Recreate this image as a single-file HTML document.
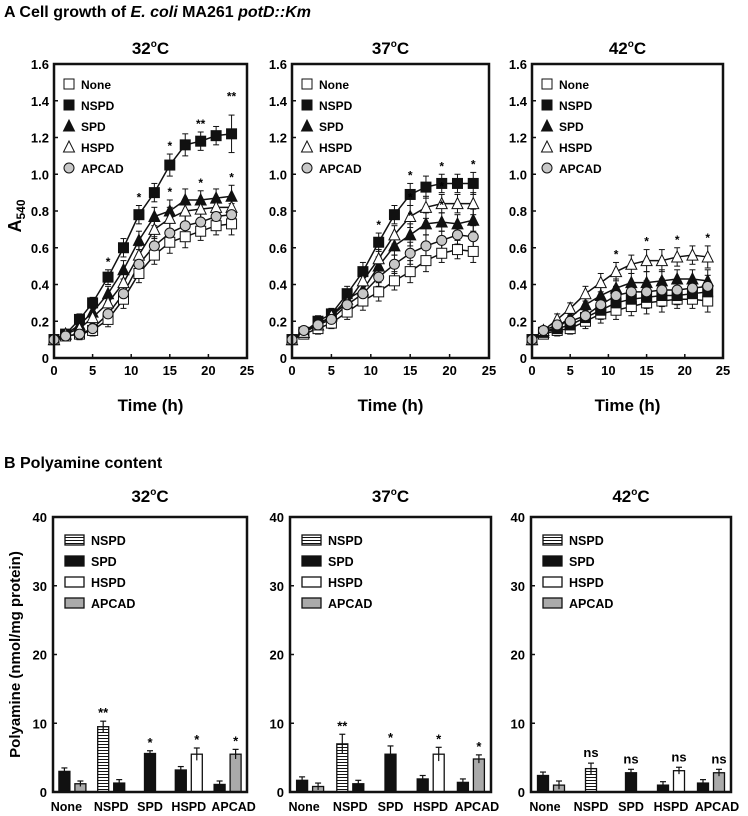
<!DOCTYPE html>
<html><head><meta charset="utf-8"><style>
body{margin:0;background:#fff}
svg{display:block;font-family:"Liberation Sans",Arial,sans-serif;font-weight:bold}
</style></head><body>
<svg id="fig" width="748" height="816" viewBox="0 0 748 816" xmlns="http://www.w3.org/2000/svg">
<text x="4" y="17" font-size="16">A  Cell growth of <tspan font-style="italic">E. coli</tspan> MA261 <tspan font-style="italic">potD::Km</tspan></text>
<text x="4" y="468" font-size="16">B  Polyamine content</text>
</svg>
<script>
// ---------- Panel A data ----------
const times = [0,1.5,3.3,5,7,9,11,13,15,17,19,21,23];
const seriesNames = ["None","NSPD","SPD","HSPD","APCAD"];
const temps = ["32","37","42"];
const a32None  = [0.1,0.12,0.13,0.15,0.21,0.32,0.46,0.56,0.63,0.66,0.69,0.72,0.73];
const a32NSPD  = [0.1,0.13,0.21,0.3,0.44,0.6,0.78,0.9,1.05,1.16,1.18,1.21,1.22];
const a32SPD   = [0.1,0.13,0.18,0.25,0.35,0.48,0.64,0.77,0.8,0.86,0.86,0.87,0.88];
const a32HSPD  = [0.1,0.13,0.16,0.22,0.3,0.41,0.56,0.7,0.76,0.8,0.81,0.82,0.82];
const a32APCAD = [0.1,0.12,0.13,0.16,0.24,0.35,0.51,0.61,0.68,0.72,0.74,0.77,0.78];
const a37None  = [0.1,0.13,0.16,0.19,0.25,0.31,0.36,0.42,0.47,0.53,0.57,0.59,0.58];
const a37NSPD  = [0.1,0.14,0.2,0.24,0.35,0.47,0.63,0.78,0.89,0.93,0.95,0.95,0.95];
const a37SPD   = [0.1,0.14,0.18,0.23,0.32,0.37,0.5,0.61,0.67,0.73,0.74,0.73,0.75];
const a37HSPD  = [0.1,0.14,0.18,0.23,0.3,0.42,0.54,0.67,0.77,0.82,0.84,0.84,0.84];
const a37APCAD = [0.1,0.15,0.18,0.21,0.29,0.35,0.44,0.51,0.57,0.61,0.64,0.67,0.66];
const a42None  = [0.1,0.13,0.15,0.16,0.2,0.24,0.26,0.28,0.3,0.31,0.32,0.32,0.31];
const a42NSPD  = [0.1,0.14,0.16,0.18,0.22,0.26,0.3,0.32,0.33,0.34,0.34,0.35,0.36];
const a42SPD   = [0.1,0.14,0.17,0.22,0.29,0.34,0.38,0.41,0.41,0.42,0.43,0.43,0.42];
const a42HSPD  = [0.1,0.15,0.21,0.27,0.35,0.41,0.47,0.51,0.53,0.53,0.55,0.56,0.55];
const a42APCAD = [0.1,0.15,0.18,0.2,0.23,0.29,0.34,0.36,0.36,0.37,0.37,0.38,0.39];
const errA = [0.01,0.02,0.03,0.03,0.04,0.05,0.05,0.05,0.06,0.06,0.05,0.05,0.06];
const yTicksA = [0,0.2,0.4,0.6,0.8,1.0,1.2,1.4,1.6];
const yTickLabelsA = ["0","0.2","0.4","0.6","0.8","1.0","1.2","1.4","1.6"];
const xTicksA = [0,5,10,15,20,25];
const stars32 = [[1,4,"*"],[1,6,"*"],[1,8,"*"],[1,10,"**"],[1,12,"**"],[2,8,"*"],[2,10,"*"],[2,12,"*"]];
const stars37 = [[1,6,"*"],[1,8,"*"],[1,10,"*"],[1,12,"*"],[3,8,"*"],[3,10,"*"],[2,8,"*"],[2,10,"*"]];
const stars42 = [[3,6,"*"],[3,8,"*"],[3,10,"*"],[3,12,"*"]];

// ---------- Panel B data ----------
const categories = ["None","NSPD","SPD","HSPD","APCAD"];
const yTicksB = [0,10,20,30,40];
const b32Spd   = [3.0,1.3,5.6,3.2,1.1];
const b32Other = [1.2,9.5,null,5.5,5.5];
const b37Spd   = [1.7,1.2,5.5,1.9,1.4];
const b37Other = [0.8,7.0,null,5.5,4.8];
const b42Spd   = [2.4,null,2.8,1.0,1.3];
const b42Other = [1.0,3.4,null,3.1,2.8];
const bErr32 = [0.4,0.8,0.4,0.9,0.7];
const bErr37 = [0.5,1.4,1.2,1.0,0.6];
const bErr42 = [0.6,0.8,0.5,0.5,0.5];
const bSig32 = ["","**","*","*","*"];
const bSig37 = ["","**","*","*","*"];
const bSig42 = ["","ns","ns","ns","ns"];
const otherType = ["gray","hatch","black","white","gray"];

const NS="http://www.w3.org/2000/svg";
const svg=document.getElementById('fig');
function el(tag,attrs,parent){const e=document.createElementNS(NS,tag);for(const k in attrs)e.setAttribute(k,attrs[k]);(parent||svg).appendChild(e);return e;}
function txt(x,y,s,size,anchor,parent){const t=el('text',{x:x,y:y,'font-size':size,'text-anchor':anchor||'middle'},parent);t.textContent=s;return t;}

const defs=el('defs',{});
const pat=el('pattern',{id:'hatch',width:4,height:3,patternUnits:'userSpaceOnUse'},defs);
el('rect',{x:0,y:0,width:4,height:3,fill:'#fff'},pat);
el('line',{x1:0,y1:0.5,x2:4,y2:0.5,stroke:'#111','stroke-width':1},pat);

function marker(g,i,x,y,s){
  const fill=[ '#fff','#111','#111','#fff','#c8c8c8'][i];
  let m;
  if(i<=1) m=el('rect',{x:x-s/2,y:y-s/2,width:s,height:s,fill:fill,stroke:'#111','stroke-width':1},g);
  else if(i<=3) m=el('polygon',{points:`${x},${y-s/2-1} ${x-s/2-0.5},${y+s/2} ${x+s/2+0.5},${y+s/2}`,fill:fill,stroke:'#111','stroke-width':1},g);
  else m=el('circle',{cx:x,cy:y,r:s/2,fill:fill,stroke:'#111','stroke-width':1},g);
  return m;
}

const aPanels=[
 {t:"32",L:54,R:247,data:[a32None,a32NSPD,a32SPD,a32HSPD,a32APCAD],stars:stars32,ylab:true},
 {t:"37",L:292,R:489,data:[a37None,a37NSPD,a37SPD,a37HSPD,a37APCAD],stars:stars37},
 {t:"42",L:532,R:723,data:[a42None,a42NSPD,a42SPD,a42HSPD,a42APCAD],stars:stars42}];
const AT=64,AB=358;
aPanels.forEach((p,pi)=>{
  const g=el('g',{});
  
  
  const xs=v=>p.L+(p.R-p.L)*v/25, ys=v=>AB-(AB-AT)*v/1.6;
  const ti=el('text',{x:(p.L+p.R)/2,y:54,'font-size':17,'text-anchor':'middle'},g);
  ti.innerHTML=p.t+'<tspan font-size="10" dy="-7">o</tspan><tspan dy="7">C</tspan>';
  
  
  yTicksA.forEach((v,i)=>{el('line',{x1:p.L,x2:p.L+4,y1:ys(v),y2:ys(v),stroke:'#111','stroke-width':1.5},g);txt(p.L-5,ys(v)+5,yTickLabelsA[i],13,'end',g);});
  xTicksA.forEach(v=>{el('line',{x1:xs(v),x2:xs(v),y1:AB,y2:AB-4,stroke:'#111','stroke-width':1.5},g);txt(xs(v),AB+17,String(v),13,'middle',g);});
  const xl=txt((p.L+p.R)/2,AB+53,'Time (h)',17,'middle',g);
  
  
  if(p.ylab){const yl=el('text',{transform:`translate(21,${(AT+AB)/2+5}) rotate(-90)`,'font-size':18,'text-anchor':'middle'},g);
    yl.innerHTML='A<tspan font-size="12" dy="4">540</tspan>';
    
    }
  p.data.forEach((arr,si)=>{
    const sg=el('g',{},g);
    
    
    el('polyline',{points:arr.map((v,i)=>xs(times[i])+','+ys(v)).join(' '),fill:'none',stroke:'#111','stroke-width':1.5},sg);
    arr.forEach((v,i)=>{const x=xs(times[i]),e=errA[i]*(si==1&&i==12&&pi==0?1.7:1);
      el('line',{x1:x,x2:x,y1:ys(v+e),y2:ys(v-e),stroke:'#111','stroke-width':1},sg);
      el('line',{x1:x-3,x2:x+3,y1:ys(v+e),y2:ys(v+e),stroke:'#111','stroke-width':1},sg);
      el('line',{x1:x-3,x2:x+3,y1:ys(v-e),y2:ys(v-e),stroke:'#111','stroke-width':1},sg);});
  });
  p.data.forEach((arr,si)=>arr.forEach((v,i)=>{const m=marker(g,si,xs(times[i]),ys(v),10);
    
    }));
  p.stars.forEach(([si,ti2,lab])=>{const v=p.data[si][ti2];txt(xs(times[ti2]),ys(v+errA[ti2]+ (lab=='**'&&pi==0&&ti2==12?0.1:0))-4,lab,12,'middle',g);});
  el('rect',{x:p.L,y:AT,width:p.R-p.L,height:AB-AT,fill:'none',stroke:'#111','stroke-width':2.5},g);
  seriesNames.forEach((n,i)=>{const ly=84+i*21;const lm=marker(g,i,p.L+15,ly,10);
    
    
    const lt=txt(p.L+27,ly+5,n,12,'start',g);
    
    });
});

const bPanels=[
 {t:"32",L:53,R:247,spd:b32Spd,oth:b32Other,err:bErr32,sig:bSig32,ylab:true},
 {t:"37",L:290,R:491,spd:b37Spd,oth:b37Other,err:bErr37,sig:bSig37},
 {t:"42",L:531,R:731,spd:b42Spd,oth:b42Other,err:bErr42,sig:bSig42}];
const BT=517,BB=792;
function fillFor(t){return t=='black'?'#111':t=='gray'?'#aaa':t=='hatch'?'url(#hatch)':'#fff';}
bPanels.forEach(p=>{
  const g=el('g',{});
  
  
  const ys=v=>BB-(BB-BT)*v/40;
  const w=p.R-p.L, cx=i=>p.L+w*(0.1+0.2*i);
  const ti=el('text',{x:(p.L+p.R)/2,y:502,'font-size':17,'text-anchor':'middle'},g);
  ti.innerHTML=p.t+'<tspan font-size="10" dy="-7">o</tspan><tspan dy="7">C</tspan>';
  yTicksB.forEach(v=>{el('line',{x1:p.L,x2:p.L+4,y1:ys(v),y2:ys(v),stroke:'#111','stroke-width':1.5},g);txt(p.L-6,ys(v)+5,String(v),13,'end',g);});
  categories.forEach((c,i)=>{const t=txt(cx(i)+(i==0?-6:i==4?6:0),BB+19,c,12.5,'middle',g);
    
    });
  if(p.ylab){const yl=el('text',{transform:`translate(20,${(BT+BB)/2}) rotate(-90)`,'font-size':15,'text-anchor':'middle'},g);
    yl.textContent='Polyamine (nmol/mg protein)';
    
    }
  const bw=11, off=8;
  categories.forEach((c,i)=>{
    const x=cx(i); let top=0;
    const bars=[];
    const pair=p.spd[i]!=null&&p.oth[i]!=null;
    if(i==1){
      if(p.oth[i]!=null)bars.push([otherType[i],p.oth[i],pair?x-off:x]);
      if(p.spd[i]!=null)bars.push(['black',p.spd[i],pair?x+off:x]);
    } else {
      if(p.spd[i]!=null)bars.push(['black',p.spd[i],pair?x-off:x]);
      if(p.oth[i]!=null)bars.push([otherType[i],p.oth[i],pair?x+off:x]);
    }
    let sigX=x;
    bars.forEach(([t,v,bx])=>{
      const r=el('rect',{x:bx-bw/2,y:ys(v),width:bw,height:ys(0)-ys(v),fill:fillFor(t),stroke:'#111','stroke-width':1.3},g);
      
      
      const main=(t!='black'||!pair);
      const e=main?p.err[i]:0.5;
      el('line',{x1:bx,x2:bx,y1:ys(v+e),y2:ys(Math.max(0,v-e)),stroke:'#111','stroke-width':1.2},g);
      el('line',{x1:bx-3,x2:bx+3,y1:ys(v+e),y2:ys(v+e),stroke:'#111','stroke-width':1.2},g);
      if(main){top=Math.max(top,v+e);sigX=bx;}
    });
    if(p.sig[i])txt(sigX,ys(top)-(p.sig[i]=='ns'?6:4),p.sig[i],13,'middle',g);
  });
  el('rect',{x:p.L,y:BT,width:w,height:BB-BT,fill:'none',stroke:'#111','stroke-width':2.5},g);
  ["NSPD","SPD","HSPD","APCAD"].forEach((n,i)=>{const ly=540+i*21;
    const t=['hatch','black','white','gray'][i];
    const lr=el('rect',{x:p.L+12,y:ly-5,width:19,height:10,fill:fillFor(t),stroke:'#111','stroke-width':1.3},g);
    
    
    const lt=txt(p.L+38,ly+5,n,12.5,'start',g);
    
    });
});
</script>
</body></html>
